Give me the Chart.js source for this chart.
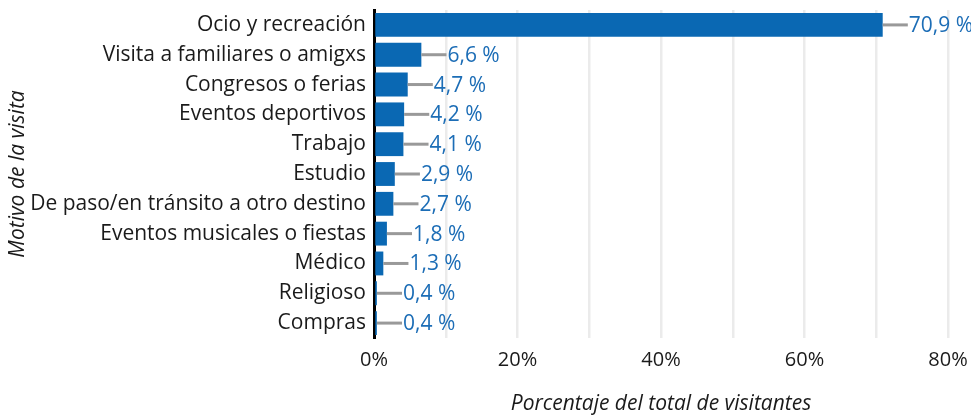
<!DOCTYPE html>
<html>
<head>
<meta charset="utf-8">
<script src="https://cdn.jsdelivr.net/npm/chart.js@4"></script>
<style>
  html, body { margin: 0; padding: 0; background: #fff; }
  #wrap { width: 971px; height: 417px; }
</style>
</head>
<body>
<div id="wrap"><canvas id="motivoChart"></canvas></div>
<script>
// --- Data ---
const motivos = [
    "Ocio y recreación",
    "Visita a familiares o amigxs",
    "Congresos o ferias",
    "Eventos deportivos",
    "Trabajo",
    "Estudio",
    "De paso/en tránsito a otro destino",
    "Eventos musicales o fiestas",
    "Médico",
    "Religioso",
    "Compras"
];
const porcentajes = [70.9, 6.6, 4.7, 4.2, 4.1, 2.9, 2.7, 1.8, 1.3, 0.4, 0.4];
const xTicks = [0, 20, 40, 60, 80];

const FONT = "'Open Sans', 'Noto Sans', sans-serif";
const BAR_BLUE = "#0a68b3";
const LABEL_BLUE = "#1c6db6";
const TEXT = "#1a1a1a";
const LEADER_OFFSET = 3.5; // in % units

function formatPct(v) {
    return v.toFixed(1).replace('.', ',') + ' %';
}

// --- Leader lines + value labels ---
const valueLabels = {
    id: 'valueLabels',
    afterDatasetsDraw(chart) {
        const { ctx, scales: { x, y } } = chart;
        ctx.save();
        porcentajes.forEach((v, i) => {
            const yc = y.getPixelForValue(i);
            const x0 = x.getPixelForValue(v);
            const x1 = x.getPixelForValue(v + LEADER_OFFSET);
            ctx.strokeStyle = "#999999";
            ctx.lineWidth = 3;
            ctx.beginPath();
            ctx.moveTo(x0, yc);
            ctx.lineTo(x1, yc);
            ctx.stroke();

            ctx.fillStyle = LABEL_BLUE;
            ctx.font = "21px " + FONT;
            ctx.textAlign = "left";
            ctx.textBaseline = "middle";
            ctx.fillText(formatPct(v), x1 + 1, yc + 1);
        });
        ctx.restore();
    }
};

const ctx = document.getElementById('motivoChart').getContext('2d');
new Chart(ctx, {
    type: 'bar',
    data: {
        labels: motivos,
        datasets: [{
            data: porcentajes,
            backgroundColor: BAR_BLUE,
            borderWidth: 0,
            barPercentage: 0.8,
            categoryPercentage: 1.0
        }]
    },
    options: {
        indexAxis: 'y',
        responsive: true,
        maintainAspectRatio: false,
        animation: false,
        layout: { padding: { top: 10, right: 23, bottom: 0, left: 0 } },
        plugins: {
            legend: { display: false },
            tooltip: { enabled: false }
        },
        scales: {
            x: {
                min: 0,
                max: 80,
                grid: { color: "#ebebeb", lineWidth: 2.5, drawTicks: false },
                border: { display: false },
                ticks: {
                    stepSize: 10,
                    padding: 10,
                    color: TEXT,
                    font: { family: FONT, size: 20 },
                    maxRotation: 0,
                    callback: (val) => xTicks.includes(val) ? val + '%' : ''
                },
                title: {
                    display: true,
                    text: "Porcentaje del total de visitantes",
                    color: TEXT,
                    font: { family: FONT, size: 21, style: 'italic' },
                    padding: { top: 0, bottom: 0 }
                },
                afterFit(scale) {
                    scale.height = 79;
                    scale.paddingLeft = 0;
                    scale.paddingRight = 0;
                }
            },
            y: {
                grid: { display: false, drawTicks: false },
                border: { display: true, color: "#000", width: 3 },
                ticks: {
                    padding: 8,
                    color: TEXT,
                    font: { family: FONT, size: 21 }
                },
                title: {
                    display: true,
                    text: "Motivo de la visita",
                    color: TEXT,
                    font: { family: FONT, size: 21, style: 'italic' },
                    padding: { top: 5, bottom: 0 }
                },
                afterFit(scale) {
                    scale.width = 374;
                    scale.paddingTop = 0;
                    scale.paddingBottom = 0;
                }
            }
        }
    },
    plugins: [valueLabels]
});
</script>
</body>
</html>
